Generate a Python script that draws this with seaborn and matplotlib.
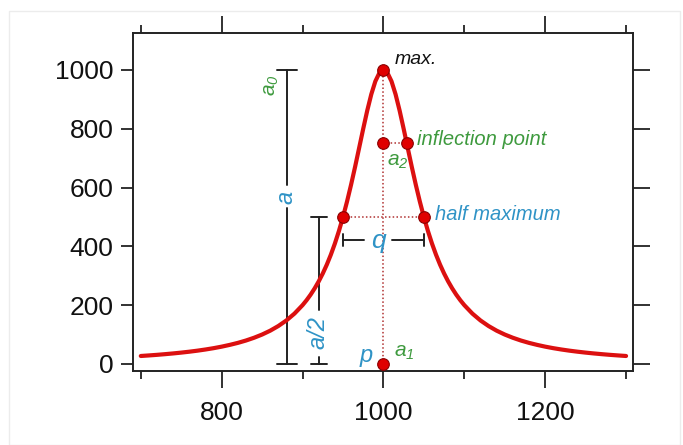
import matplotlib
matplotlib.use("Agg")
import matplotlib.pyplot as plt
import seaborn as sns
import pandas as pd
from matplotlib.patches import Rectangle

# ---- data ----
peak_x = [700, 710, 720, 730, 740, 750, 760, 770, 780, 790, 800, 810, 820, 830, 840, 850,
          860, 870, 880, 890, 900, 905, 910, 915, 920, 925, 930, 935, 940, 945, 950, 955,
          960, 965, 970, 975, 980, 985, 990, 995, 1000, 1005, 1010, 1015, 1020, 1025, 1030,
          1035, 1040, 1045, 1050, 1055, 1060, 1065, 1070, 1075, 1080, 1085, 1090, 1095, 1100,
          1110, 1120, 1130, 1140, 1150, 1160, 1170, 1180, 1190, 1200, 1210, 1220, 1230, 1240,
          1250, 1260, 1270, 1280, 1290, 1300]
peak_y = [27.0, 28.9, 30.9, 33.2, 35.7, 38.5, 41.6, 45.1, 49.1, 53.6, 58.8, 64.8, 71.6, 79.6,
          89.0, 100, 113.1, 128.9, 147.9, 171.2, 200, 216.9, 235.8, 257.1, 280.9, 307.7, 337.8,
          371.7, 409.8, 452.5, 500, 552.5, 609.8, 671.1, 735.3, 800, 862.1, 917.4, 961.5, 990.1,
          1000, 990.1, 961.5, 917.4, 862.1, 800, 735.3, 671.1, 609.8, 552.5, 500, 452.5, 409.8,
          371.7, 337.8, 307.7, 280.9, 257.1, 235.8, 216.9, 200, 171.2, 147.9, 128.9, 113.1, 100,
          89.0, 79.6, 71.6, 64.8, 58.8, 53.6, 49.1, 45.1, 41.6, 38.5, 35.7, 33.2, 30.9, 28.9, 27.0]

center = 1000
amplitude = 1000
half_left, half_right = 950, 1050
half_height = 500
inflect_x, inflect_y = 1029, 750

bracket_a_x = 881
bracket_half_x = 920
q_level = 422

x_ticks = [700, 800, 900, 1000, 1100, 1200, 1300]
x_labels = ["", "800", "", "1000", "", "1200", ""]
y_ticks = [0, 200, 400, 600, 800, 1000]

green = "#3e9a3e"
blue = "#2f93c6"
red = "#dc1010"

df = pd.DataFrame({"x": peak_x, "y": peak_y})

sns.set_style("white")
plt.rcParams["font.family"] = ["Liberation Sans", "DejaVu Sans"]
plt.rcParams["mathtext.fontset"] = "custom"
plt.rcParams["mathtext.rm"] = "Liberation Sans:italic"
plt.rcParams["mathtext.it"] = "Liberation Sans:italic"

fig = plt.figure(figsize=(6.83, 4.45), dpi=100)
fig.patches.append(Rectangle((9 / 683, 0), 671 / 683, 434 / 445, transform=fig.transFigure,
                             fill=False, edgecolor="#ececec", linewidth=1.0))
ax = fig.add_axes([0.1943, 0.167, 0.733, 0.7596])

# dotted guides
dot = dict(color="#b03030", linestyle=(0, (1, 1.5)), linewidth=1.1, zorder=2)
ax.plot([center, center], [0, amplitude], **dot)
ax.plot([half_left, half_right], [half_height, half_height], **dot)
ax.plot([center, inflect_x], [inflect_y, inflect_y], **dot)

sns.lineplot(data=df, x="x", y="y", ax=ax, color=red, linewidth=3.0, zorder=3)

# markers
mx = [center, center, inflect_x, half_left, half_right, center]
my = [amplitude, inflect_y, inflect_y, half_height, half_height, 0]
sns.scatterplot(x=mx, y=my, ax=ax, s=70, color="#e00000", edgecolor="#8a0000", linewidth=0.8,
                zorder=5, clip_on=False)

k = "#222222"
lw = 1.4
# bracket a
cap_a = 12
ax.plot([bracket_a_x, bracket_a_x], [0, 530], color=k, lw=lw)
ax.plot([bracket_a_x, bracket_a_x], [609, amplitude], color=k, lw=lw)
ax.plot([bracket_a_x - cap_a, bracket_a_x + cap_a], [0, 0], color=k, lw=lw)
ax.plot([bracket_a_x - cap_a, bracket_a_x + cap_a], [amplitude, amplitude], color=k, lw=lw)
ax.text(bracket_a_x - 1, 568, "a", color=blue, fontsize=17, style="italic", rotation=90,
        ha="center", va="center")
ax.text(bracket_a_x - 20, 950, "a$_0$", color=green, fontsize=15, style="italic", rotation=90,
        ha="center", va="center")

# bracket a/2
cap_h = 10
ax.plot([bracket_half_x, bracket_half_x], [182, half_height], color=k, lw=lw)
ax.plot([bracket_half_x, bracket_half_x], [0, 25], color=k, lw=lw)
ax.plot([bracket_half_x - cap_h, bracket_half_x + cap_h], [0, 0], color=k, lw=lw)
ax.plot([bracket_half_x - cap_h, bracket_half_x + cap_h], [half_height, half_height], color=k, lw=lw)
ax.text(bracket_half_x - 1, 108, "a/2", color=blue, fontsize=17, style="italic", rotation=90,
        ha="center", va="center")

# q bracket
ax.plot([half_left, 976], [q_level, q_level], color=k, lw=lw)
ax.plot([1011, half_right], [q_level, q_level], color=k, lw=lw)
ax.plot([half_left, half_left], [q_level - 20, q_level + 20], color=k, lw=lw)
ax.plot([half_right, half_right], [q_level - 20, q_level + 20], color=k, lw=lw)
ax.text(993.5, q_level - 5, "q", color=blue, fontsize=19, style="italic", ha="center", va="center")

# labels
ax.text(1014, 1034, "max.", color="#111111", fontsize=14, style="italic", ha="left", va="center")
ax.text(1041, 762, "inflection point", color=green, fontsize=14.5, style="italic", ha="left", va="center")
ax.text(1004, 688, "a$_2$", color=green, fontsize=15, style="italic", ha="left", va="center")
ax.text(1064, 508, "half maximum", color=blue, fontsize=14.5, style="italic", ha="left", va="center")
ax.text(979, 28, "p", color=blue, fontsize=17, style="italic", ha="center", va="center")
ax.text(1013, 40, "a$_1$", color=green, fontsize=15, style="italic", ha="left", va="center")

ax.set_xlim(690, 1309)
ax.set_ylim(-23, 1127)
ax.set_xlabel("")
ax.set_ylabel("")

ax.set_xticks(x_ticks)
ax.set_xticklabels(x_labels)
ax.set_yticks(y_ticks)
ax.tick_params(axis="x", which="major", direction="out", length=12, width=1.3, color=k,
               top=True, bottom=True, labelsize=19, pad=10, labelcolor="#111111")
ax.tick_params(axis="y", which="major", direction="out", length=9, width=1.3, color=k,
               left=True, right=True, labelsize=19, pad=5, labelcolor="#111111")
for t, lab in zip(ax.xaxis.get_major_ticks(), x_labels):
    if lab == "":
        t.tick1line.set_markersize(6)
        t.tick2line.set_markersize(6)
for t in ax.yaxis.get_major_ticks():
    t.tick2line.set_markersize(12)

for s in ax.spines.values():
    s.set_visible(True)
    s.set_color(k)
    s.set_linewidth(1.4)

fig.savefig("out.png", dpi=100)
